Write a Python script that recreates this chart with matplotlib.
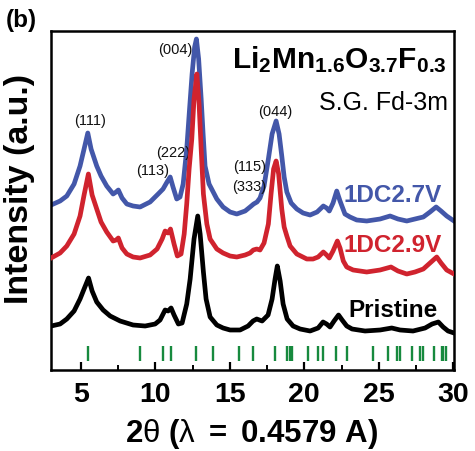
import matplotlib
matplotlib.use("Agg")
import matplotlib.pyplot as plt

plt.rcParams['font.family'] = ['Liberation Sans', 'DejaVu Sans']
plt.rcParams['mathtext.fontset'] = 'custom'
plt.rcParams['mathtext.rm'] = 'Liberation Sans'
plt.rcParams['mathtext.bf'] = 'Liberation Sans:bold'
plt.rcParams['mathtext.it'] = 'Liberation Sans:italic'

# ---- diffraction patterns (2theta in degrees, stacked intensity in a.u.) ----
pristine_tt = [3.01, 3.61, 4.06, 4.55, 4.95, 5.22, 5.52, 5.76, 6.07, 6.50, 6.97, 7.64, 8.51,
               9.32, 9.99, 10.32, 10.66, 10.86, 11.06, 11.26, 11.55, 11.80, 12.11, 12.34,
               12.60, 12.85, 13.01, 13.23, 13.41, 13.68, 14.13, 14.55, 15.02, 15.69, 16.23,
               16.56, 16.81, 17.17, 17.57, 17.84, 18.04, 18.19, 18.38, 18.58, 18.85, 19.25,
               19.72, 20.39, 20.93, 21.26, 21.50, 21.73, 22.00, 22.30, 22.54, 22.85, 23.21,
               24.08, 25.09, 25.87, 26.43, 27.30, 28.11, 28.58, 29.00, 29.32, 29.65, 30.05]
pristine_int = [44, 46, 51, 59, 71, 81, 92, 79, 68, 60, 54, 49, 45,
                44, 46, 50, 60, 59, 62, 55, 46, 47, 66, 91,
                131, 154, 136, 98, 71, 53, 45, 42, 40, 40, 44,
                49, 51, 49, 55, 71, 91, 104, 89, 66, 51, 44,
                41, 39, 42, 48, 46, 43, 49, 55, 50, 44, 41,
                39, 40, 42, 40, 39, 42, 46, 48, 43, 39, 37]

dc29_tt = [3.01, 3.61, 4.06, 4.55, 4.95, 5.22, 5.51, 5.76, 6.07, 6.36, 6.74, 7.17, 7.37, 7.52,
           7.77, 8.09, 8.51, 8.98, 9.65, 10.12, 10.46, 10.66, 10.86, 11.02, 11.26, 11.48,
           11.73, 11.94, 12.11, 12.27, 12.45, 12.60, 12.79, 12.94, 13.08, 13.23, 13.46,
           13.68, 14.13, 14.55, 15.02, 15.47, 16.03, 16.36, 16.58, 16.81, 17.03, 17.30,
           17.59, 17.77, 17.94, 18.11, 18.28, 18.49, 18.65, 18.83, 19.05, 19.50, 20.17,
           20.59, 20.93, 21.28, 21.50, 21.68, 21.93, 22.22, 22.40, 22.62, 22.85, 23.28,
           24.19, 25.09, 25.82, 26.29, 26.88, 27.43, 27.99, 28.44, 28.89, 29.18, 29.56, 30.05]
dc29_int = [112, 117, 124, 136, 154, 175, 196, 175, 161, 148, 138, 129, 130, 132,
            122, 116, 113, 112, 115, 121, 131, 139, 137, 141, 126, 114,
            116, 136, 166, 201, 231, 271, 296, 266, 221, 176, 146,
            131, 121, 117, 114, 113, 115, 117, 120, 121, 120, 127,
            146, 176, 201, 209, 196, 161, 143, 134, 124, 116, 111,
            111, 113, 118, 115, 112, 119, 129, 122, 109, 103, 100,
            98, 100, 103, 99, 96, 98, 101, 107, 113, 107, 100, 96]

dc27_tt = [3.01, 3.61, 4.06, 4.55, 4.95, 5.22, 5.47, 5.69, 6.07, 6.36, 6.74, 7.17, 7.37, 7.52,
           7.77, 8.09, 8.51, 8.98, 9.65, 10.19, 10.52, 10.79, 11.00, 11.19, 11.44, 11.66,
           11.87, 12.11, 12.30, 12.47, 12.64, 12.76, 12.91, 13.08, 13.21, 13.34, 13.61,
           14.13, 14.55, 15.02, 15.47, 16.03, 16.36, 16.60, 16.83, 17.03, 17.30, 17.59,
           17.84, 18.11, 18.31, 18.49, 18.65, 18.83, 19.12, 19.50, 19.92, 20.39, 20.86,
           21.28, 21.50, 21.68, 21.93, 22.18, 22.40, 22.73, 23.07, 23.52, 24.19, 25.09,
           25.76, 26.29, 26.88, 27.43, 27.99, 28.44, 28.85, 29.18, 29.56, 30.05]
dc27_int = [165, 169, 174, 186, 204, 221, 237, 221, 204, 194, 184, 176, 178, 180,
            172, 166, 164, 163, 168, 176, 181, 188, 193, 183, 171, 173,
            186, 221, 261, 296, 323, 331, 311, 271, 236, 204, 186,
            171, 163, 158, 156, 159, 163, 166, 168, 172, 184, 211,
            236, 249, 236, 214, 193, 178, 167, 161, 157, 155, 158,
            164, 162, 159, 167, 179, 169, 156, 153, 150, 149, 151,
            154, 151, 149, 151, 153, 158, 163, 159, 154, 149]

# Fd-3m reference reflection positions
ref_tt = [5.51, 8.98, 10.50, 11.04, 12.73, 13.87, 15.62, 16.58, 18.05, 18.86, 19.04, 19.19,
          20.23, 20.94, 21.23, 22.12, 22.84, 24.60, 25.64, 26.21, 26.43, 27.21, 27.77, 28.00,
          28.71, 29.23, 29.34, 29.52]

# peak indices: label, 2theta, height of label centre
hkl_labels = ['(111)', '(113)', '(222)', '(004)', '(115)', '(333)', '(044)']
hkl_tt = [5.62, 9.85, 11.23, 11.33, 16.33, 16.33, 18.04]
hkl_y = [249.5, 199.5, 217.5, 321, 204.5, 184.5, 259]

series_names = ['1DC2.7V', '1DC2.9V', 'Pristine']
series_colors = ['#4357A9', '#D0232E', '#000000']
name_y = [169, 119, 54]
name_right = [29.26, 29.26, 28.93]

x_ticks = [5, 10, 15, 20, 25, 30]

fig = plt.figure(figsize=(4.75, 4.52), dpi=100)
ax = fig.add_axes([51 / 475, 1 - 371 / 452, 403 / 475, 339 / 452])

lw = 3.4
ax.plot(pristine_tt, pristine_int, color=series_colors[2], lw=lw, solid_joinstyle='round', zorder=3)
ax.plot(dc29_tt, dc29_int, color=series_colors[1], lw=lw, solid_joinstyle='round', zorder=4)
ax.plot(dc27_tt, dc27_int, color=series_colors[0], lw=lw, solid_joinstyle='round', zorder=2)

ax.vlines(ref_tt, 9, 24, color='#178A3E', lw=1.7)

for lab, tx, ty in zip(hkl_labels, hkl_tt, hkl_y):
    ax.text(tx, ty, lab, fontsize=10.5, ha='center', va='center', color='#111111')

for name, col, ty, tx in zip(series_names, series_colors, name_y, name_right):
    ax.text(tx, ty, name, fontsize=17.5, fontweight='bold', color=col, ha='right', va='baseline')

ax.set_xlim(3.0, 30.05)
ax.set_ylim(0, 339)
ax.set_yticks([])
ax.set_xticks(x_ticks)
ax.set_xticks([7.5, 12.5, 17.5, 22.5, 27.5], minor=True)
ax.tick_params(axis='x', which='major', direction='in', length=6, width=1.6,
               labelsize=20.5, pad=8)
ax.tick_params(axis='x', which='minor', direction='in', length=3.5, width=1.4)
for lbl in ax.get_xticklabels():
    lbl.set_fontweight('bold')
for sp in ax.spines.values():
    sp.set_linewidth(1.8)

fig.text(447 / 475, 1 - 68.3 / 452, r'$\mathbf{Li_{2}Mn_{1.6}O_{3.7}F_{0.3}}$',
         fontsize=21.5, ha='right', va='baseline')
fig.text(448 / 475, 1 - 110 / 452, 'S.G. Fd-3m', fontsize=18, ha='right', va='baseline')
fig.text(21 / 475, 1 - 21 / 452, '(b)', fontsize=17.5, fontweight='bold', ha='center', va='center')
fig.text(19.5 / 475, 1 - 189 / 452, 'Intensity (a.u.)', fontsize=24.5, fontweight='bold',
         rotation=90, ha='center', va='center')
fig.text(252 / 475, 1 - 441.7 / 452,
         r'$\mathbf{2}\mathrm{\theta}\ \mathbf{(}\mathrm{\lambda}\ \mathbf{=\ 0.4579\ A)}$',
         fontsize=22.5, ha='center', va='baseline')

fig.savefig('out.png', dpi=100)
